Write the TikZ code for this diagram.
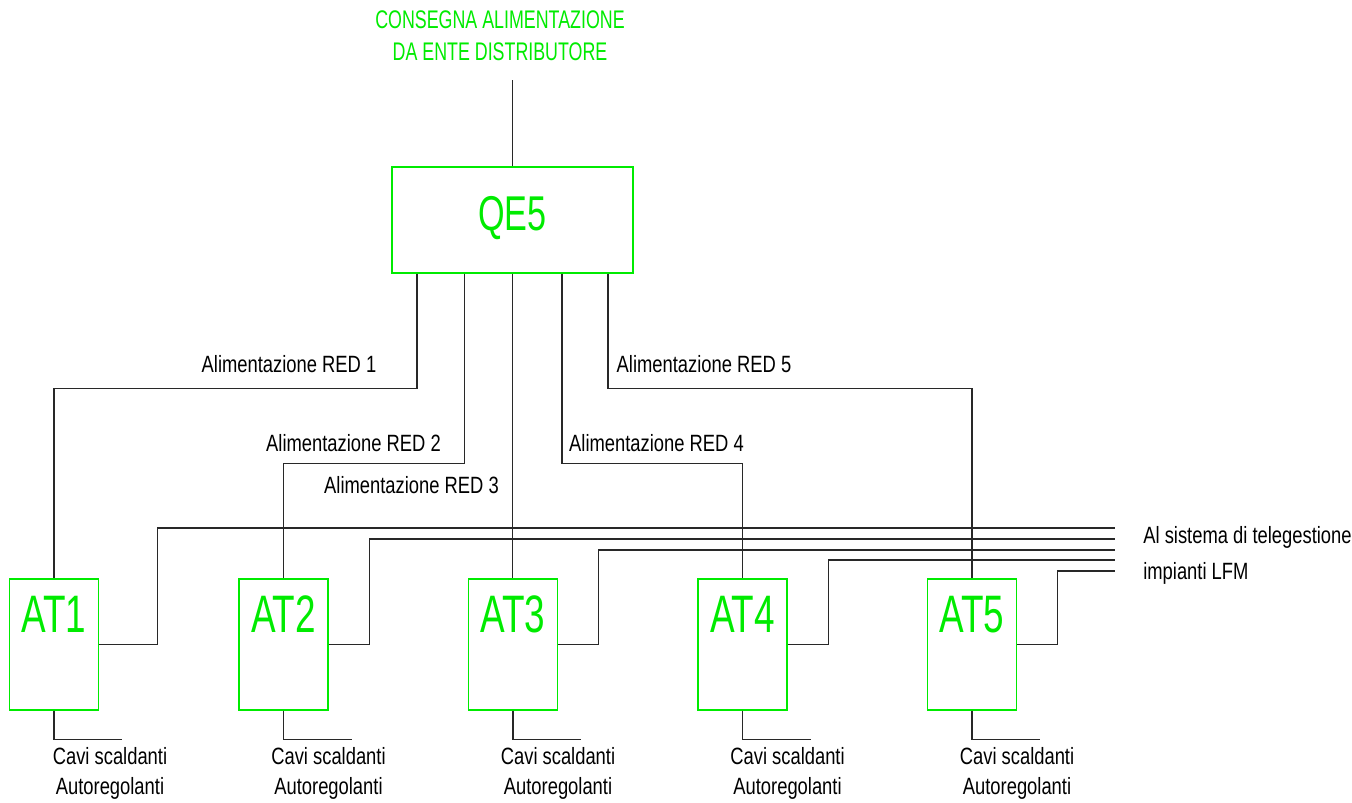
\documentclass[tikz,border=0pt]{standalone}
\usepackage{fontspec}
\setmainfont{Liberation Sans}
\newfontfamily\narrowfont[FakeStretch=0.78]{Liberation Sans}
\newfontfamily\condfont[FakeStretch=0.7]{Liberation Sans}
\definecolor{lfmGreen}{RGB}{0, 235, 0}
\definecolor{wireGray}{RGB}{40, 40, 40}
\usetikzlibrary{positioning, calc}

\begin{document}
\begin{tikzpicture}[
    node distance=2.782cm,
    wire/.style={draw=wireGray, line width=0.7pt},
    panel/.style={rectangle, draw=lfmGreen, line width=0.8pt, text=lfmGreen, inner sep=0pt},
    qbox/.style={panel, minimum width=4.82cm, minimum height=2.12cm, text height=0.7cm, text depth=0.28cm,
                 font=\condfont\fontsize{27.8}{30}\selectfont},
    atbox/.style={panel, minimum width=1.78cm, minimum height=2.62cm, text height=0.76cm, text depth=1.26cm,
                  font=\condfont\fontsize{30}{32}\selectfont},
    tag/.style={inner sep=0pt, font=\narrowfont\fontsize{13.4}{17}\selectfont},
    cable/.style={tag, align=center},
  ]
    \useasboundingbox (0,0) rectangle (27.04,-16.04);

    \node[text=lfmGreen, align=center, font=\condfont\fontsize{14.5}{18.1}\selectfont] (feed) at (10.0,-0.72)
      {CONSEGNA ALIMENTAZIONE\\DA ENTE DISTRIBUTORE};
    \coordinate (feedEnd) at (10.25,-1.6);

    \node[qbox] (QE5) at (10.25,-4.4) {QE5};
    \draw[wire] (feedEnd) -- (QE5.north);

    \node[atbox] (AT1) at (1.08,-12.89) {AT1};
    \node[atbox, right=of AT1] (AT2) {AT2};
    \node[atbox, right=of AT2] (AT3) {AT3};
    \node[atbox, right=of AT3] (AT4) {AT4};
    \node[atbox, right=of AT4] (AT5) {AT5};

    \coordinate (q1) at ($(QE5.south)+(-1.91,0)$);
    \coordinate (q2) at ($(QE5.south)+(-0.96,0)$);
    \coordinate (q3) at (QE5.south);
    \coordinate (q4) at ($(QE5.south)+(0.99,0)$);
    \coordinate (q5) at ($(QE5.south)+(1.91,0)$);
    \draw[wire] (q1) -- ++(0,-2.29) -| (AT1.north);
    \draw[wire] (q2) -- ++(0,-3.8) -| (AT2.north);
    \draw[wire] (q3) -- (q3 |- AT3.north);
    \draw[wire] (q4) -- ++(0,-3.8) -| (AT4.north);
    \draw[wire] (q5) -- ++(0,-2.29) -| (AT5.north);

    \node[tag] (red1) at (5.78,-7.28) {Alimentazione RED 1};
    \node[tag] (red2) at (7.07,-8.86) {Alimentazione RED 2};
    \node[tag] (red3) at (8.23,-9.7) {Alimentazione RED 3};
    \node[tag] (red4) at (13.13,-8.86) {Alimentazione RED 4};
    \node[tag] (red5) at (14.08,-7.28) {Alimentazione RED 5};

    \coordinate (bus1) at (22.3,-10.56);
    \coordinate (bus2) at (22.3,-10.78);
    \coordinate (bus3) at (22.3,-11.0);
    \coordinate (bus4) at (22.3,-11.2);
    \coordinate (bus5) at (22.3,-11.42);
    \draw[wire] (AT1.east) -- ++(1.17,0) |- (bus1);
    \draw[wire] (AT2.east) -- ++(0.82,0) |- (bus2);
    \draw[wire] (AT3.east) -- ++(0.81,0) |- (bus3);
    \draw[wire] (AT4.east) -- ++(0.82,0) |- (bus4);
    \draw[wire] (AT5.east) -- ++(0.81,0) |- (bus5);

    \node[tag, anchor=west, align=left, font=\narrowfont\fontsize{13.4}{20.4}\selectfont] (tele) at (22.86,-11.1)
      {Al sistema di telegestione\\impianti LFM};

    \draw[wire] (AT1.south) |- ++(1.36,-0.58);
    \draw[wire] (AT2.south) |- ++(1.36,-0.58);
    \draw[wire] (AT3.south) |- ++(1.36,-0.58);
    \draw[wire] (AT4.south) |- ++(1.36,-0.58);
    \draw[wire] (AT5.south) |- ++(1.36,-0.58);

    \node[cable] (cavi1) at ($(AT1.south)+(1.12,-1.26)$) {Cavi scaldanti\\Autoregolanti};
    \node[cable] (cavi2) at ($(AT2.south)+(0.9,-1.26)$) {Cavi scaldanti\\Autoregolanti};
    \node[cable] (cavi3) at ($(AT3.south)+(0.9,-1.26)$) {Cavi scaldanti\\Autoregolanti};
    \node[cable] (cavi4) at ($(AT4.south)+(0.9,-1.26)$) {Cavi scaldanti\\Autoregolanti};
    \node[cable] (cavi5) at ($(AT5.south)+(0.9,-1.26)$) {Cavi scaldanti\\Autoregolanti};
  \end{tikzpicture}
\end{document}
